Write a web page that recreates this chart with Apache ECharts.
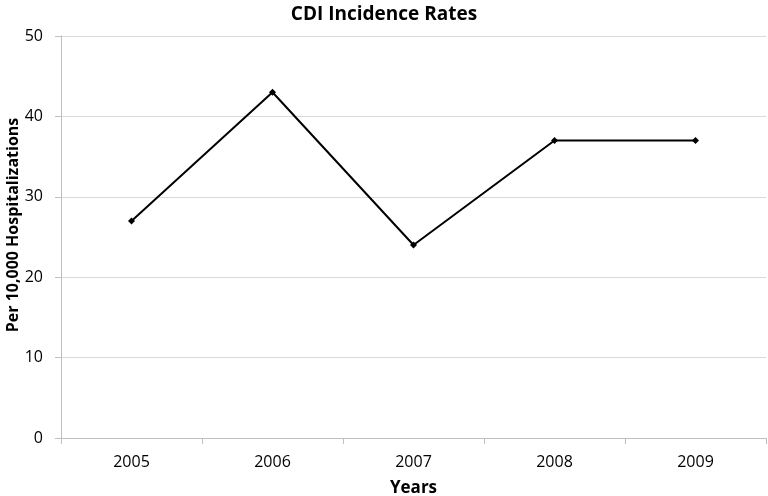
<!DOCTYPE html>
<html><head><meta charset="utf-8">
<script src="https://cdn.jsdelivr.net/npm/echarts@6/dist/echarts.min.js"></script>
<style>html,body{margin:0;padding:0;background:#fff}#c{width:768px;height:496px}</style>
</head><body><div id="c"></div>
<script>
const categories = ['2005','2006','2007','2008','2009'];
const rates = [27, 43, 24, 37, 37];
const yTicks = [0, 10, 20, 30, 40, 50];
const yAxisTitle = 'Per 10,000 Hospitalizations';

const chart = echarts.init(document.getElementById('c'));
const font = 'Open Sans, Liberation Sans, sans-serif';
chart.setOption({
  animation: false,
  title: { text: 'CDI Incidence Rates', left: 'center', top: 0,
    textStyle: { fontFamily: font, fontSize: 19, fontWeight: 'bold', color: '#000' } },
  grid: { left: 61, right: 2, top: 36, bottom: 58, containLabel: false, outerBoundsMode: 'none' },
  graphic: [{
    type: 'text', x: 13, y: 225, rotation: Math.PI / 2,
    style: { text: yAxisTitle, fontFamily: font, fontSize: 16, fontWeight: 'bold', fill: '#000',
      align: 'center', verticalAlign: 'middle' }
  }],
  xAxis: {
    type: 'category', data: categories, boundaryGap: true,
    name: 'Years', nameLocation: 'middle', nameGap: 42,
    nameTextStyle: { fontFamily: font, fontSize: 17, fontWeight: 'bold', color: '#000' },
    axisLine: { lineStyle: { color: '#bfbfbf' } },
    axisTick: { show: true, length: 6, lineStyle: { color: '#bfbfbf' } },
    axisLabel: { fontFamily: font, fontSize: 16, color: '#000', margin: 16 }
  },
  yAxis: {
    type: 'value', min: yTicks[0], max: yTicks[yTicks.length-1], interval: 10,
    axisLine: { show: true, lineStyle: { color: '#bfbfbf' } },
    axisTick: { show: true, length: 6, lineStyle: { color: '#bfbfbf' } },
    axisLabel: { fontFamily: font, fontSize: 16, color: '#000', margin: 18 },
    splitLine: { lineStyle: { color: '#d9d9d9' } }
  },
  series: [{
    type: 'line', data: rates,
    symbol: 'diamond', symbolSize: 7,
    lineStyle: { color: '#000', width: 2 },
    itemStyle: { color: '#000' }
  }]
});
</script></body></html>
